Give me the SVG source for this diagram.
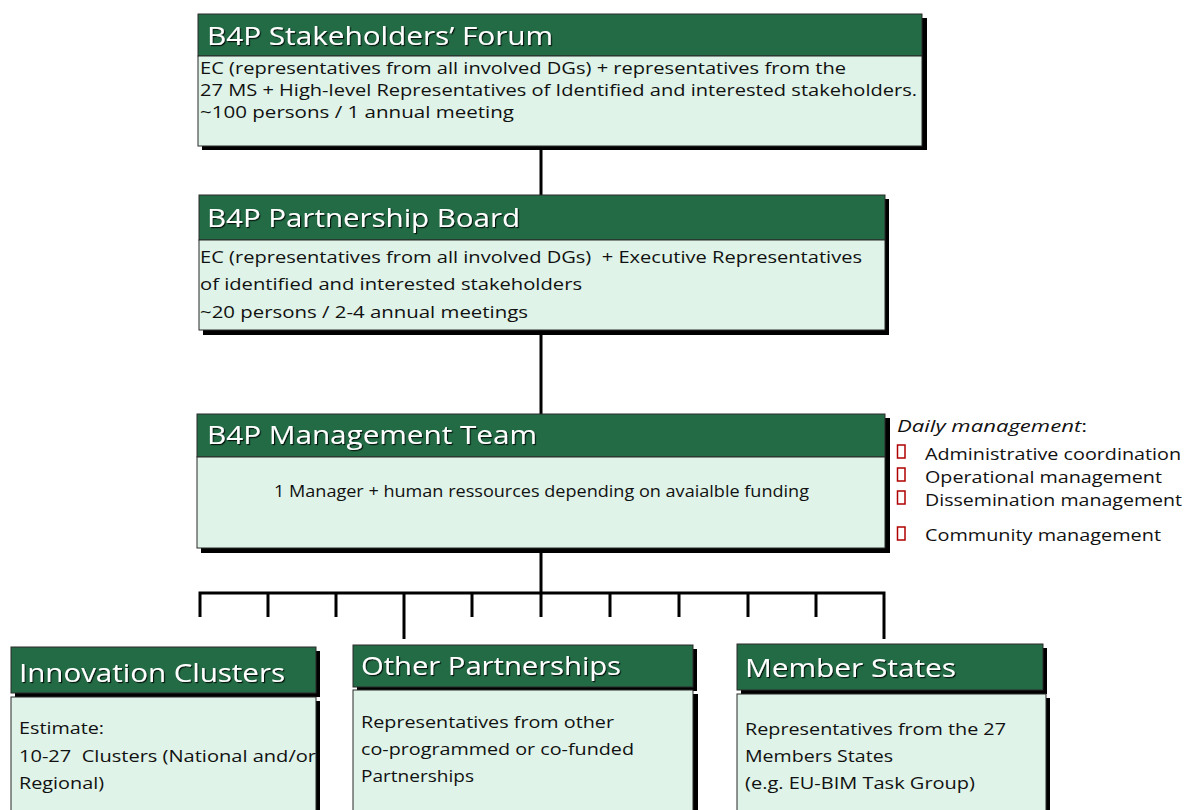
<svg xmlns="http://www.w3.org/2000/svg" width="1187" height="810" viewBox="0 0 1187 810">
<defs>
<filter id="ts" x="-5%" y="-20%" width="110%" height="140%">
<feDropShadow dx="1.2" dy="1.2" stdDeviation="0.6" flood-color="#000" flood-opacity="0.8"/>
</filter>
<style>
.hd{fill:#236B45;stroke:#2a2a2a;stroke-width:1}
.bd{fill:#DFF3E8;stroke:#2a2a2a;stroke-width:1}
.sh{fill:#000}
.ht{font-family:"Open Sans",Lato,sans-serif;font-size:26px;fill:#fff;filter:url(#ts)}
.bt{font-family:"Open Sans",Lato,sans-serif;font-size:16.5px;fill:#111}
.dt{font-family:"Open Sans",Lato,sans-serif;font-size:17px;fill:#111}
.bx{fill:none;stroke:#B00000;stroke-width:1.5}
.cn{fill:none;stroke:#000;stroke-width:3}
</style>
</defs>
<rect width="1187" height="810" fill="#fff"/>

<g id="connectors">
<path class="cn" d="M541,146 V195 M541,330 V414 M541,548 V593 M200,617 V593 H884 V639 M268,593 V617 M336,593 V617 M404,593 V639 M472,593 V617 M541,593 V617 M610,593 V617 M679,593 V617 M748,593 V617 M816,593 V617"/>
</g>

<g id="forum">
<rect class="sh" x="202" y="18" width="725" height="132"/>
<rect class="hd" x="198" y="14" width="724" height="42"/>
<rect class="bd" x="198" y="56" width="724" height="90"/>
<text class="ht" x="207" y="45" textLength="346" lengthAdjust="spacingAndGlyphs">B4P Stakeholders’ Forum</text>
<text class="bt" x="200" y="74" textLength="646" lengthAdjust="spacingAndGlyphs">EC (representatives from all involved DGs) + representatives from the</text>
<text class="bt" x="200" y="96" textLength="717" lengthAdjust="spacingAndGlyphs">27 MS + High-level Representatives of Identified and interested stakeholders.</text>
<text class="bt" x="200" y="118" textLength="314" lengthAdjust="spacingAndGlyphs">~100 persons / 1 annual meeting</text>
</g>

<g id="board">
<rect class="sh" x="203" y="199" width="686" height="136"/>
<rect class="hd" x="199" y="195" width="686" height="45"/>
<rect class="bd" x="199" y="240" width="686" height="90"/>
<text class="ht" x="207" y="227" textLength="313" lengthAdjust="spacingAndGlyphs">B4P Partnership Board</text>
<text class="bt" x="200" y="263" textLength="662" lengthAdjust="spacingAndGlyphs" xml:space="preserve">EC (representatives from all involved DGs)  + Executive Representatives</text>
<text class="bt" x="200" y="290" textLength="382" lengthAdjust="spacingAndGlyphs">of identified and interested stakeholders</text>
<text class="bt" x="200" y="318" textLength="328" lengthAdjust="spacingAndGlyphs">~20 persons / 2-4 annual meetings</text>
</g>

<g id="management">
<rect class="sh" x="201" y="418" width="689" height="135"/>
<rect class="hd" x="197" y="414" width="688" height="43"/>
<rect class="bd" x="197" y="457" width="688" height="91"/>
<text class="ht" x="207" y="444" textLength="330" lengthAdjust="spacingAndGlyphs">B4P Management Team</text>
<text class="bt" x="274" y="497" textLength="535" lengthAdjust="spacingAndGlyphs">1 Manager + human ressources depending on avaialble funding</text>
</g>

<g id="daily">
<text class="dt" x="897" y="432" textLength="190" lengthAdjust="spacingAndGlyphs"><tspan font-style="italic">Daily management</tspan>:</text>
<rect class="bx" x="897.5" y="445" width="7.5" height="13"/>
<text class="dt" x="925" y="460" textLength="256" lengthAdjust="spacingAndGlyphs">Administrative coordination</text>
<rect class="bx" x="897.5" y="468" width="7.5" height="13"/>
<text class="dt" x="925" y="483" textLength="237" lengthAdjust="spacingAndGlyphs">Operational management</text>
<rect class="bx" x="897.5" y="491" width="7.5" height="13"/>
<text class="dt" x="925" y="506" textLength="257" lengthAdjust="spacingAndGlyphs">Dissemination management</text>
<rect class="bx" x="897.5" y="527" width="7.5" height="13"/>
<text class="dt" x="925" y="541" textLength="236" lengthAdjust="spacingAndGlyphs">Community management</text>
</g>

<g id="clusters">
<rect class="sh" x="15" y="651" width="305" height="46"/>
<rect class="hd" x="11" y="647" width="305" height="46"/>
<rect class="sh" x="15" y="701" width="305" height="120"/>
<rect class="bd" x="11" y="697" width="305" height="120"/>
<text class="ht" x="19" y="682" textLength="266" lengthAdjust="spacingAndGlyphs">Innovation Clusters</text>
<text class="bt" x="19" y="734" textLength="85" lengthAdjust="spacingAndGlyphs">Estimate:</text>
<text class="bt" x="19" y="762" textLength="297" lengthAdjust="spacingAndGlyphs" xml:space="preserve">10-27  Clusters (National and/or</text>
<text class="bt" x="19" y="789" textLength="85" lengthAdjust="spacingAndGlyphs">Regional)</text>
</g>

<g id="partnerships">
<rect class="sh" x="357" y="649" width="340" height="42"/>
<rect class="hd" x="353" y="645" width="340" height="42"/>
<rect class="sh" x="358" y="694" width="340" height="120"/>
<rect class="bd" x="353" y="690" width="340" height="130"/>
<text class="ht" x="361" y="675" textLength="260" lengthAdjust="spacingAndGlyphs">Other Partnerships</text>
<text class="bt" x="361" y="728" textLength="253" lengthAdjust="spacingAndGlyphs">Representatives from other</text>
<text class="bt" x="361" y="755" textLength="273" lengthAdjust="spacingAndGlyphs">co-programmed or co-funded</text>
<text class="bt" x="361" y="782" textLength="113" lengthAdjust="spacingAndGlyphs">Partnerships</text>
</g>

<g id="memberstates">
<rect class="sh" x="741" y="648" width="306" height="46"/>
<rect class="hd" x="737" y="644" width="306" height="46"/>
<rect class="sh" x="741" y="698" width="309" height="120"/>
<rect class="bd" x="737" y="694" width="309" height="130"/>
<text class="ht" x="745" y="677" textLength="211" lengthAdjust="spacingAndGlyphs">Member States</text>
<text class="bt" x="745" y="735" textLength="261" lengthAdjust="spacingAndGlyphs">Representatives from the 27</text>
<text class="bt" x="745" y="762" textLength="148" lengthAdjust="spacingAndGlyphs">Members States</text>
<text class="bt" x="745" y="789" textLength="230" lengthAdjust="spacingAndGlyphs">(e.g. EU-BIM Task Group)</text>
</g>
</svg>
